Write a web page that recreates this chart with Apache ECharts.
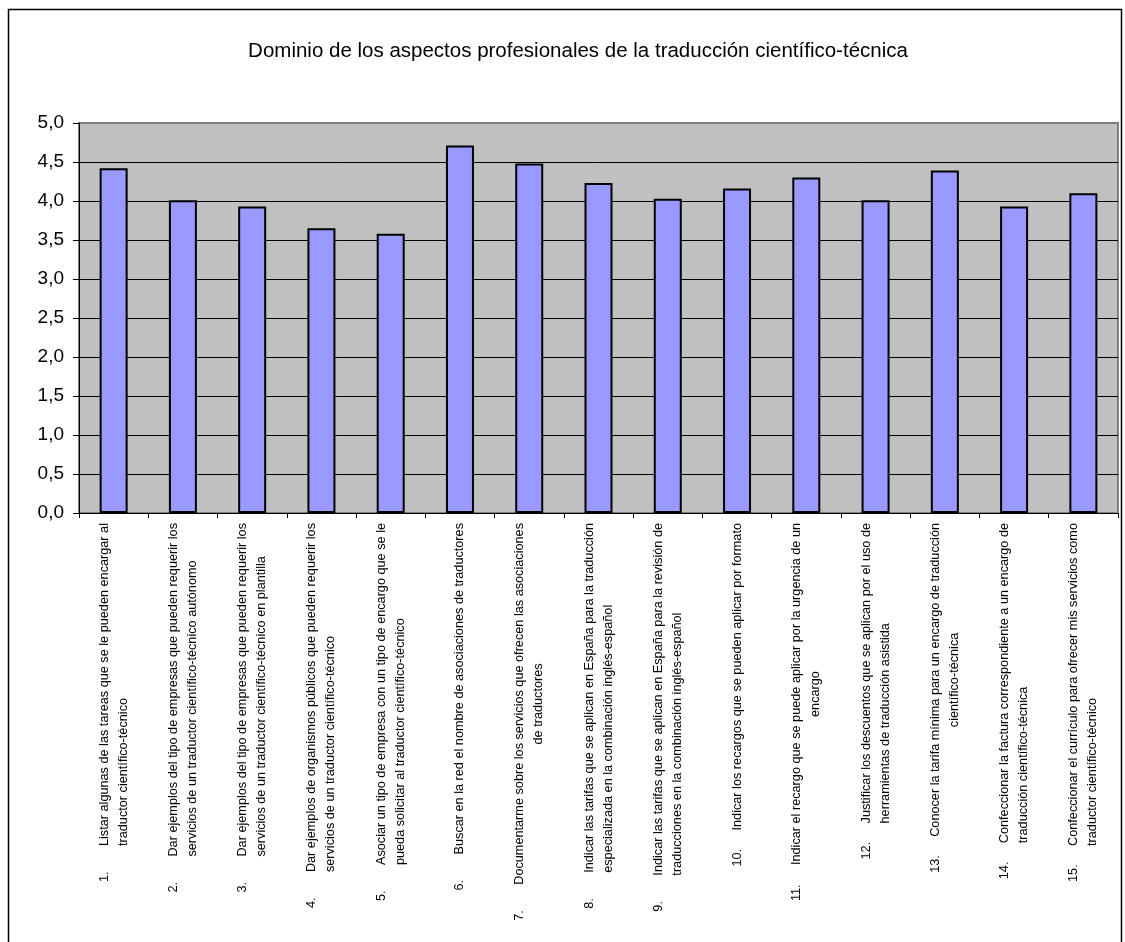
<!DOCTYPE html>
<html>
<head>
<meta charset="utf-8">
<script src="https://cdn.jsdelivr.net/npm/echarts@6/dist/echarts.min.js"></script>
<style>
  html, body { margin: 0; padding: 0; background: #fff; }
  #chart { width: 1125px; height: 942px; }
</style>
</head>
<body>
<div id="chart"></div>
<script>
const chartTitle = "Dominio de los aspectos profesionales de la traducción científico-técnica";

const itemNumbers = ["1.", "2.", "3.", "4.", "5.", "6.", "7.", "8.", "9.", "10.", "11.", "12.", "13.", "14.", "15."];

// first line / second line of each category label, as wrapped in the original
const firstLines = [
  "Listar algunas de las tareas que se le pueden encargar al",
  "Dar ejemplos del tipo de empresas que pueden requerir los",
  "Dar ejemplos del tipo de empresas que pueden requerir los",
  "Dar ejemplos de organismos públicos que pueden requerir los",
  "Asociar un tipo de empresa con un tipo de encargo que se le",
  "Buscar en la red el nombre de asociaciones de traductores",
  "Documentarme sobre los servicios que ofrecen las asociaciones",
  "Indicar las tarifas que se aplican en España para la traducción",
  "Indicar las tarifas que se aplican en España para la revisión de",
  "Indicar los recargos que se pueden aplicar por formato",
  "Indicar el recargo que se puede aplicar por la urgencia de un",
  "Justificar los descuentos que se aplican por el uso de",
  "Conocer la tarifa mínima para un encargo de traducción",
  "Confeccionar la factura correspondiente a un encargo de",
  "Confeccionar el currículo para ofrecer mis servicios como"
];
const secondLines = [
  "traductor científico-técnico",
  "servicios de un traductor científico-técnico autónomo",
  "servicios de un traductor científico-técnico en plantilla",
  "servicios de un traductor científico-técnico",
  "pueda solicitar al traductor científico-técnico",
  "",
  "de traductores",
  "especializada en la combinación inglés-español",
  "traducciones en la combinación inglés-español",
  "",
  "encargo",
  "herramientas de traducción asistida",
  "científico-técnica",
  "traducción científico-técnica",
  "traductor científico-técnico"
];
// second lines that are centred rather than left aligned
const centredSecond = [false, false, false, false, false, false, true, false, false, false, true, false, true, false, false];

const scores = [4.42, 4.01, 3.93, 3.65, 3.58, 4.71, 4.48, 4.23, 4.03, 4.16, 4.30, 4.01, 4.39, 3.93, 4.10];

const categories = itemNumbers.map((n, i) => String(i));

const labelFont = 12.7;

const chart = echarts.init(document.getElementById("chart"));

chart.setOption({
  backgroundColor: "#fff",
  animation: false,
  textStyle: { fontFamily: "Liberation Sans, Arial, sans-serif", color: "#000" },
  title: {
    text: chartTitle,
    left: 573,
    top: 36,
    textAlign: "center",
    textStyle: { fontSize: 20.5, fontWeight: "normal", color: "#000", fontFamily: "Liberation Sans, Arial, sans-serif" }
  },
  graphic: [
    {
      type: "rect",
      shape: { x: 8.5, y: 9.5, width: 1113, height: 1000 },
      style: { fill: null, stroke: "#000", lineWidth: 1.5 },
      silent: true
    }
  ],
  grid: {
    left: 79,
    right: 7,
    top: 123,
    bottom: 429,
    show: true,
    backgroundColor: "#C0C0C0",
    borderColor: "#808080",
    borderWidth: 2
  },
  xAxis: {
    type: "category",
    data: categories,
    axisLine: { show: true, lineStyle: { color: "#000", width: 1 } },
    axisTick: { show: true, interval: 0, alignWithLabel: false, length: 5, lineStyle: { color: "#000" } },
    axisLabel: {
      interval: 0,
      rotate: 90,
      margin: 10,
      color: "#000",
      fontSize: labelFont,
      lineHeight: 19,
      formatter: (v) => {
        const i = Number(v);
        let s = "{n|" + itemNumbers[i] + "}{t|" + firstLines[i] + "}";
        if (secondLines[i]) {
          s += "\n{n| }{" + (centredSecond[i] ? "c" : "t") + "|" + secondLines[i] + "}";
        }
        return s;
      },
      rich: {
        n: { width: 36, align: "left", fontSize: labelFont, color: "#000", lineHeight: 19 },
        t: { align: "left", fontSize: labelFont, color: "#000", lineHeight: 19 },
        c: { align: "center", fontSize: labelFont, color: "#000", lineHeight: 19 }
      }
    }
  },
  yAxis: {
    type: "value",
    min: 0,
    max: 5,
    interval: 0.5,
    axisLine: { show: true, lineStyle: { color: "#000", width: 1 } },
    axisTick: { show: true, length: 6, lineStyle: { color: "#000" } },
    axisLabel: {
      fontSize: 19,
      color: "#000",
      margin: 15,
      formatter: (v) => v.toFixed(1).replace(".", ",")
    },
    splitLine: { show: true, showMaxLine: false, lineStyle: { color: "#000", width: 1 } }
  },
  series: [
    {
      type: "bar",
      data: scores,
      barWidth: 28,
      itemStyle: { color: "#9999FF", borderColor: "#000", borderWidth: 2 },
      silent: true
    }
  ]
});
</script>
</body>
</html>
